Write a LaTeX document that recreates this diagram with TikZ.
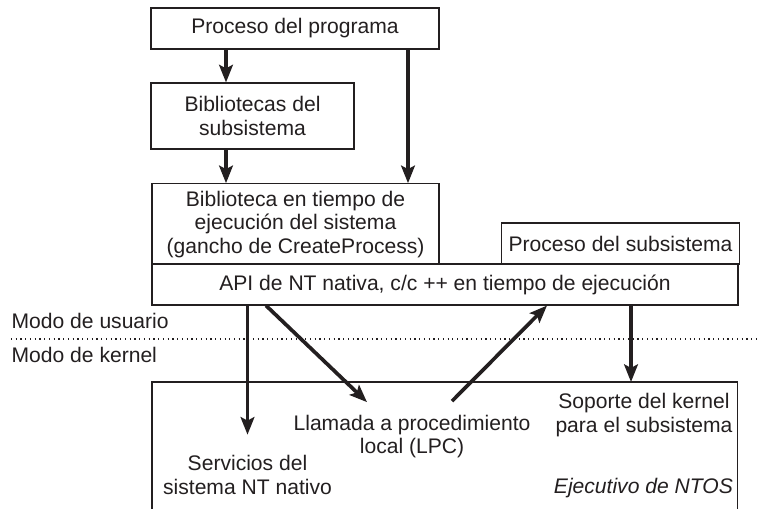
\documentclass[tikz,border=0pt]{standalone}
\usepackage{fontspec}
\setsansfont{Liberation Sans}
\usepackage{tikz}
\usetikzlibrary{arrows.meta,positioning}
\definecolor{DiagramInk}{RGB}{35,31,32}

\begin{document}
\begin{tikzpicture}[
        font=\sffamily\fontsize{12}{13.6}\selectfont,
        color=DiagramInk,
        box/.style={
            draw=DiagramInk,
            text=DiagramInk,
            fill=white,
            line width=0.6pt,
            align=center,
            minimum height=0.82cm,
            inner sep=4pt
        },
        label/.style={
            text=DiagramInk,
            align=center,
            inner sep=1pt
        },
        modelabel/.style={
            label,
            anchor=west
        },
        arrow/.style={
            -{Stealth[length=10pt,width=7.8pt,inset=2pt]},
            draw=DiagramInk,
            line width=2.1pt
        },
        frame/.style={
            draw=DiagramInk,
            line width=0.6pt
        },
        separator/.style={
            draw=DiagramInk,
            line width=0.6pt,
            dash pattern=on 0.7pt off 2pt
        }
    ]

    \useasboundingbox (0,0) rectangle (15.16,-10.16);

    % User mode
    \node[box, minimum width=5.76cm] (prog) at (5.9,-0.57) {Proceso del programa};
    \node[box, minimum width=4.06cm, minimum height=1.32cm] (libs) at (5.05,-2.32) {Bibliotecas del\\subsistema};
    \node[box, minimum width=5.74cm, minimum height=1.58cm] (rtlib) at (5.91,-4.49) {Biblioteca en tiempo de\\ejecución del sistema\\(gancho de CreateProcess)};
    \node[box, minimum width=4.7cm] (subproc) at (12.41,-4.87) {Proceso del subsistema};
    \node[box, minimum width=11.72cm] (api) at (8.9,-5.69) {API de NT nativa, c/c ++ en tiempo de ejecución};

    \coordinate (colL) at (4.52,0);
    \coordinate (colR) at (8.16,0);
    \coordinate (colK) at (12.62,0);

    \draw[arrow] (colL |- prog.south) -- (colL |- libs.north);
    \draw[arrow] (colL |- libs.south) -- (colL |- rtlib.north);
    \draw[arrow] (colR |- prog.south) -- (colR |- rtlib.north);

    % Mode boundary
    \node[modelabel] (user) at (0.19,-6.42) {Modo de usuario};
    \node[modelabel] (kernel) at (0.19,-7.1) {Modo de kernel};
    \draw[separator] (0.22,-6.78) -- (15.16,-6.78);

    % Kernel mode
    \node[inner sep=0pt, minimum width=11.7cm, minimum height=2.52cm, anchor=north west] (ntos) at (3.04,-7.64) {};
    \draw[frame] (ntos.south west) -- (ntos.north west) -- (ntos.north east) -- (ntos.south east);

    \node[label] (serv) at (4.95,-9.5) {Servicios del\\sistema NT nativo};
    \node[label] (rpc) at (8.24,-8.73) {Llamada a procedimiento\\local (LPC)};
    \node[label] (supp) at (12.88,-8.3) {Soporte del kernel\\para el subsistema};
    \node[label, anchor=east] (exec) at (14.7,-9.76) {\itshape Ejecutivo de NTOS};

    \draw[arrow] (serv.north |- api.south) -- ([yshift=0.37cm]serv.north);
    \draw[arrow] ([xshift=-3.58cm]api.south) -- ([xshift=-0.9cm,yshift=0.21cm]rpc.north);
    \draw[arrow] ([xshift=0.8cm,yshift=0.23cm]rpc.north) -- ([xshift=2.04cm]api.south);
    \draw[arrow] (colK |- api.south) -- (colK |- ntos.north);

\end{tikzpicture}
\end{document}
